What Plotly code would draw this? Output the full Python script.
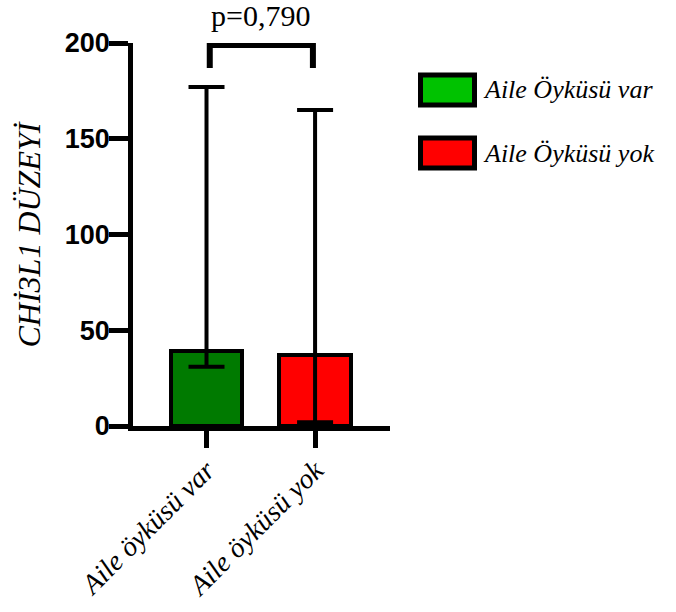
import plotly.graph_objects as go

# Group data: bar height with the lower / upper limits of each whisker
categories = ["Aile öyküsü var", "Aile öyküsü yok"]
legend_names = ["Aile Öyküsü var", "Aile Öyküsü yok"]
bar_values = [39, 37]
whisker_high = [177, 165]
whisker_low = [31, 2]
y_ticks = [0, 50, 100, 150, 200]
p_label = "p=0,790"
bracket_top = 199
bracket_drop = 187

bar_colors = ["#007a00", "#ff0000"]
legend_colors = ["#00c200", "#ff0000"]

SERIF = "Liberation Serif, Times New Roman, serif"

W, H = 676, 612
L, R, T, B = 133, 286, 43, 186
PW, PH = W - L - R, H - T - B

def px_x(px):
    return (px - L) / PW

def px_y(py):
    return (H - B - py) / PH

xpos = list(range(len(categories)))

fig = go.Figure()
for i, name in enumerate(categories):
    fig.add_trace(go.Bar(
        x=[xpos[i]], y=[bar_values[i]], width=0.66,
        marker=dict(color=bar_colors[i], line=dict(color="black", width=4)),
        error_y=dict(type="data", symmetric=False,
                     array=[whisker_high[i] - bar_values[i]],
                     arrayminus=[bar_values[i] - whisker_low[i]],
                     color="black", thickness=4, width=18),
        showlegend=False, name=name,
    ))

# significance bracket between the two groups
fig.add_trace(go.Scatter(
    x=[xpos[0] + 0.03, xpos[0] + 0.03, xpos[1] - 0.02, xpos[1] - 0.02],
    y=[bracket_drop, bracket_top, bracket_top, bracket_drop],
    mode="lines", line=dict(color="black", width=6),
    cliponaxis=False, showlegend=False, hoverinfo="skip",
))

annotations = [
    dict(text=p_label, x=(xpos[0] + xpos[1]) / 2, xref="x", y=px_y(34), yref="paper",
         xanchor="center", yanchor="bottom", showarrow=False,
         font=dict(family=SERIF, size=30, color="black")),
    dict(text="CHİ3L1 DÜZEYİ", textangle=-90, x=px_x(28), xref="paper",
         y=0.5, yref="paper", xanchor="center", yanchor="middle", showarrow=False,
         font=dict(family=SERIF, size=32, color="black", style="italic")),
]

# hand-built legend with large swatches
shapes = []
legend_rows = [90, 153]
for name, col, cy in zip(legend_names, legend_colors, legend_rows):
    shapes.append(dict(type="rect", xref="paper", yref="paper",
                       x0=px_x(420.5), x1=px_x(474.5), y0=px_y(cy - 15), y1=px_y(cy + 15),
                       fillcolor=col, line=dict(color="black", width=5)))
    annotations.append(dict(text=name, x=px_x(481), xref="paper",
                            y=px_y(cy), yref="paper", xanchor="left", yanchor="middle",
                            showarrow=False,
                            font=dict(family=SERIF, size=26, color="black", style="italic")))

fig.update_layout(
    width=W, height=H,
    margin=dict(l=L, r=R, t=T, b=B, pad=0, autoexpand=False),
    paper_bgcolor="white", plot_bgcolor="white",
    bargap=0,
    xaxis=dict(range=[-0.677, 1.69], tickvals=xpos, ticktext=categories,
               tickangle=-45, ticks="outside", ticklen=17, tickwidth=4.5,
               tickcolor="black", showline=True, linecolor="black", linewidth=4.5,
               showgrid=False, zeroline=False, automargin=False,
               ticklabelstandoff=-5,
               tickfont=dict(family=SERIF, size=28, color="black", style="italic")),
    yaxis=dict(range=[0, 200], tickvals=y_ticks, ticks="outside", ticklen=19,
               tickwidth=4.5, tickcolor="black", showline=True, linecolor="black",
               linewidth=4.5, showgrid=False, zeroline=False, automargin=False,
               ticklabelstandoff=-6,
               tickfont=dict(family="Liberation Sans, Arial, sans-serif", size=27,
                             color="black", weight="bold")),
    shapes=shapes,
    annotations=annotations,
)

fig.write_html("out.html")
